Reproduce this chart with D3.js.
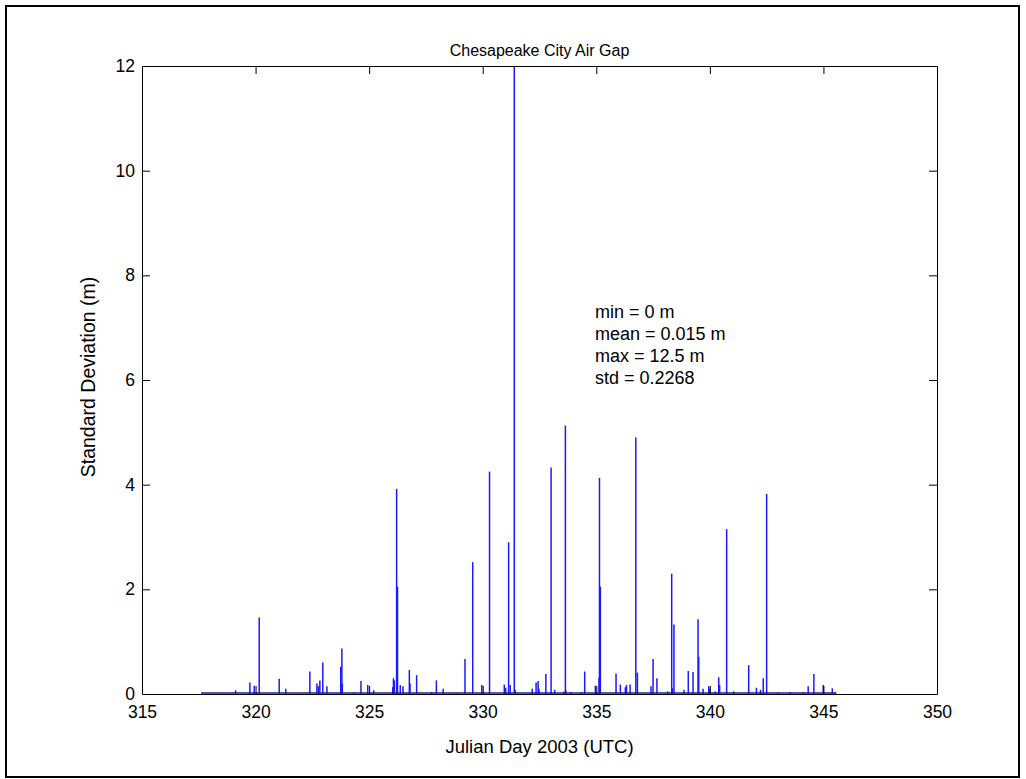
<!DOCTYPE html>
<html>
<head>
<meta charset="utf-8">
<script src="https://cdn.jsdelivr.net/npm/d3@7"></script>
<style>
  html, body { margin: 0; padding: 0; background: #fff; }
  svg text { font-family: "Liberation Sans", Arial, sans-serif; fill: #000; }
</style>
</head>
<body>
<svg id="chart" width="1026" height="779"></svg>
<script>
// ---- data ----
const titleText = "Chesapeake City Air Gap";
const xLabelText = "Julian Day 2003 (UTC)";
const yLabelText = "Standard Deviation (m)";
const xTicks = [315, 320, 325, 330, 335, 340, 345, 350];
const yTicks = [0, 2, 4, 6, 8, 10, 12];
const statsLines = ["min = 0 m", "mean = 0.015 m", "max = 12.5 m", "std = 0.2268"];
const seriesStart = 317.6;
const seriesEnd = 345.56;
const spikeDays = [
  319.12, 319.75, 319.94, 320.16, 321.04, 321.33,
  322.39, 322.70, 322.77, 322.83, 322.96, 323.14, 323.75, 323.80, 323.82,
  324.35, 324.64, 324.94, 325.20, 326.04, 326.07, 326.11, 326.21, 326.25,
  326.37, 326.49, 326.77, 326.80, 327.09, 327.75, 327.96, 328.26, 328.83,
  329.22, 329.56, 329.96, 330.30, 330.95, 331.01, 331.14, 331.21, 331.39,
  331.43, 332.18, 332.35, 332.44, 332.48, 332.78, 333.01, 333.17, 333.58,
  333.64, 333.66, 333.88, 334.35, 334.49, 334.96, 335.12, 335.14, 335.18,
  335.87, 336.06, 336.28, 336.33, 336.49, 336.74, 336.81, 337.41, 337.50,
  337.67, 338.14, 338.32, 338.35, 338.42, 338.86, 339.05, 339.26, 339.48,
  339.51, 339.70, 339.95, 339.98, 340.24, 340.39, 340.43, 340.74, 341.05,
  341.71, 342.05, 342.23, 342.35, 342.50, 342.99, 343.54, 344.12, 344.33,
  344.58, 344.99, 345.39, 345.53
];
const spikeValues = [
  0.07, 0.22, 0.16, 1.46, 0.29, 0.10,
  0.43, 0.20, 0.15, 0.26, 0.60, 0.15, 0.52, 0.87, 0.20,
  0.03, 0.25, 0.17, 0.07, 0.13, 0.30, 0.26, 3.92, 2.05,
  0.17, 0.15, 0.46, 0.20, 0.36, 0.04, 0.26, 0.10, 0.02,
  0.67, 2.52, 0.17, 4.25, 0.18, 0.12, 2.90, 0.17, 12.5,
  0.08, 0.10, 0.22, 0.25, 0.10, 0.38, 4.33, 0.08, 0.05,
  5.13, 0.07, 0.04, 0.03, 0.43, 0.16, 0.31, 4.13, 2.05,
  0.39, 0.18, 0.13, 0.17, 0.18, 4.90, 0.41, 0.15, 0.67,
  0.30, 0.05, 2.30, 0.11, 1.33, 0.08, 0.44, 0.42, 1.43,
  0.71, 0.10, 0.15, 0.10, 0.05, 0.32, 0.17, 3.15, 0.05,
  0.55, 0.12, 0.08, 0.30, 3.82, 0.03, 0.04, 0.03, 0.15,
  0.38, 0.17, 0.11, 0.03
];

// ---- layout ----
const svg = d3.select("#chart");
const pLeft = 142, pRight = 937, pTop = 66, pBottom = 694;

const x = d3.scaleLinear().domain([315, 350]).range([pLeft, pRight]);
const y = d3.scaleLinear().domain([0, 12]).range([pBottom, pTop]);

// outer frame
svg.append("rect")
  .attr("x", 6).attr("y", 6).attr("width", 1013).attr("height", 771)
  .attr("fill", "#fff").attr("stroke", "#000").attr("stroke-width", 2);

// clip
svg.append("defs").append("clipPath").attr("id", "clip")
  .append("rect").attr("x", pLeft).attr("y", pTop)
  .attr("width", pRight - pLeft).attr("height", pBottom - pTop);

const spikes = spikeDays.map((d, i) => ({ day: d, val: spikeValues[i] }));

const plot = svg.append("g").attr("clip-path", "url(#clip)");

plot.selectAll("line.spike")
  .data(spikes)
  .join("line")
  .attr("class", "spike")
  .attr("x1", d => x(d.day))
  .attr("x2", d => x(d.day))
  .attr("y1", y(0))
  .attr("y2", d => y(d.val))
  .attr("stroke", "#1a1aff")
  .attr("stroke-width", 1.5);

// baseline of the series (dense near-zero data)
plot.append("line")
  .attr("x1", x(seriesStart)).attr("x2", x(seriesEnd))
  .attr("y1", y(0) - 1).attr("y2", y(0) - 1)
  .attr("stroke", "#1a1aa0").attr("stroke-width", 1.5);

// axes (MATLAB box style, ticks inward on all sides)
const tickLen = 8;
const axB = svg.append("g").attr("transform", `translate(0,${pBottom})`)
  .call(d3.axisBottom(x).tickValues(xTicks).tickSizeInner(-tickLen).tickSizeOuter(0).tickPadding(12).tickFormat(d3.format("d")));
const axT = svg.append("g").attr("transform", `translate(0,${pTop})`)
  .call(d3.axisTop(x).tickValues(xTicks).tickSizeInner(-tickLen).tickSizeOuter(0).tickFormat(""));
const axL = svg.append("g").attr("transform", `translate(${pLeft},0)`)
  .call(d3.axisLeft(y).tickValues(yTicks).tickSizeInner(-tickLen).tickSizeOuter(0).tickPadding(7).tickFormat(d3.format("d")));
const axR = svg.append("g").attr("transform", `translate(${pRight},0)`)
  .call(d3.axisRight(y).tickValues(yTicks).tickSizeInner(-tickLen).tickSizeOuter(0).tickFormat(""));

[axB, axT, axL, axR].forEach(g => {
  g.select(".domain").attr("stroke", "#000").attr("stroke-width", 1);
  g.selectAll(".tick line").attr("stroke", "#000");
  g.selectAll(".tick text").style("font-size", "17.5px").attr("fill", "#000");
});
axB.selectAll(".tick text").attr("dy", "0.71em");
[axB, axT].forEach(g => g.selectAll(".tick line").filter(d => d === 315 || d === 350).remove());
[axL, axR].forEach(g => g.selectAll(".tick line").filter(d => d === 0 || d === 12).remove());

// title & labels
svg.append("text")
  .attr("x", (pLeft + pRight) / 2).attr("y", 56)
  .attr("text-anchor", "middle").style("font-size", "16px")
  .text(titleText);

svg.append("text")
  .attr("x", (pLeft + pRight) / 2).attr("y", 753)
  .attr("text-anchor", "middle").style("font-size", "18.5px")
  .text(xLabelText);

svg.append("text")
  .attr("transform", `translate(95,${(pTop + pBottom) / 2 - 3}) rotate(-90)`)
  .attr("text-anchor", "middle").style("font-size", "19.5px")
  .text(yLabelText);

// statistics annotation
const stats = svg.append("text").attr("x", 595).attr("y", 318).style("font-size", "18px");
statsLines.forEach((s, i) => {
  stats.append("tspan").attr("x", 595).attr("y", 318 + i * 22).text(s);
});
</script>
</body>
</html>
